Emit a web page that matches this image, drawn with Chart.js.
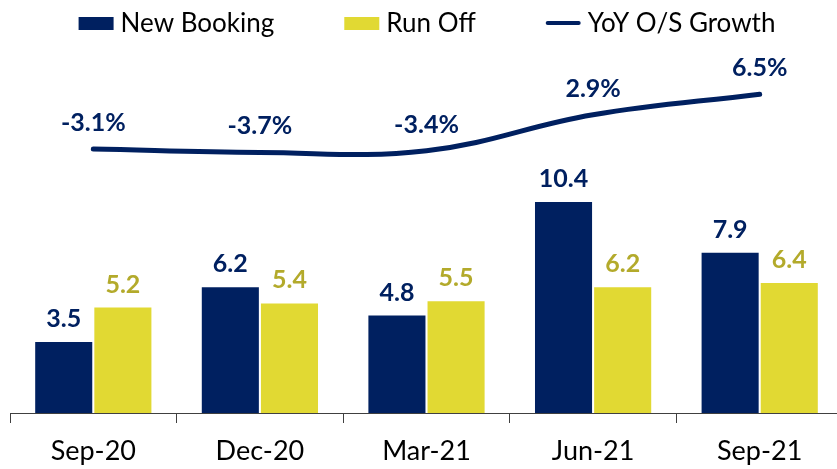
<!DOCTYPE html>
<html>

<head>
    <title>New Booking vs Run Off</title>
    <script src="https://cdn.jsdelivr.net/npm/chart.js"></script>
    <style>
        body { margin: 0; overflow: hidden; background: #fff; }
        #wrap { width: 845px; height: 469px; }
    </style>
</head>

<body>
    <div id="wrap"><canvas id="chart"></canvas></div>
    <script>
        var categories = ['Sep-20', 'Dec-20', 'Mar-21', 'Jun-21', 'Sep-21'];
        var newBooking = [3.5, 6.2, 4.8, 10.4, 7.9];
        var runOff = [5.2, 5.4, 5.5, 6.2, 6.4];
        var yoyGrowth = [-3.1, -3.7, -3.4, 2.9, 6.5];

        var NAVY = '#002060';
        var YELLOW = '#E1D933';
        var YELLOW_TEXT = '#B3AA2B';
        var FONT = 'Lato, "Open Sans", sans-serif';

        // value labels above bars and line points
        var valueLabels = {
            id: 'valueLabels',
            afterDatasetsDraw: function (chart) {
                var c = chart.ctx;
                c.save();
                c.font = 'bold 25px ' + FONT;
                c.textAlign = 'center';
                c.textBaseline = 'middle';
                chart.data.datasets.forEach(function (ds, i) {
                    var meta = chart.getDatasetMeta(i);
                    meta.data.forEach(function (el, j) {
                        var v = ds.data[j];
                        var txt, gap;
                        if (ds.type === 'line') {
                            txt = v.toFixed(1) + '%';
                            gap = 26;
                        } else {
                            txt = v.toFixed(1);
                            gap = 23;
                        }
                        c.fillStyle = ds.labelColor;
                        c.fillText(txt, el.x, el.y - gap);
                    });
                });
                c.restore();
            }
        };

        // legend row on top
        var topLegend = {
            id: 'topLegend',
            afterDraw: function (chart) {
                var c = chart.ctx;
                c.save();
                c.font = '26px ' + FONT;
                c.textBaseline = 'middle';
                var y = 23, mark = 35, gap = 7, itemGap = 70;
                var items = chart.data.datasets.map(function (ds) {
                    return { ds: ds, w: mark + gap + c.measureText(ds.label).width };
                });
                var total = items.reduce(function (s, it) { return s + it.w; }, 0) + itemGap * (items.length - 1);
                var x = 427 - total / 2;
                items.forEach(function (it) {
                    var ds = it.ds;
                    if (ds.type === 'line') {
                        c.strokeStyle = ds.borderColor;
                        c.lineWidth = 4;
                        c.lineCap = 'round';
                        c.beginPath();
                        c.moveTo(x + 2, y);
                        c.lineTo(x + mark - 2, y);
                        c.stroke();
                    } else {
                        c.fillStyle = ds.backgroundColor;
                        c.fillRect(x, y - 6, mark, 13);
                    }
                    c.fillStyle = '#000';
                    c.fillText(ds.label, x + mark + gap, y + 1);
                    x += it.w + itemGap;
                });
                c.restore();
            }
        };

        var ctx = document.getElementById('chart').getContext('2d');
        var chart = new Chart(ctx, {
            data: {
                labels: categories,
                datasets: [{
                    type: 'bar',
                    label: 'New Booking',
                    data: newBooking,
                    backgroundColor: NAVY,
                    labelColor: NAVY,
                    yAxisID: 'y',
                    order: 1,
                    categoryPercentage: 0.71,
                    barPercentage: 0.965
                }, {
                    type: 'bar',
                    label: 'Run Off',
                    data: runOff,
                    backgroundColor: YELLOW,
                    labelColor: YELLOW_TEXT,
                    yAxisID: 'y',
                    order: 1,
                    categoryPercentage: 0.71,
                    barPercentage: 0.965
                }, {
                    type: 'line',
                    label: 'YoY O/S Growth',
                    data: yoyGrowth,
                    borderColor: NAVY,
                    labelColor: NAVY,
                    borderWidth: 5,
                    borderCapStyle: 'round',
                    pointRadius: 0,
                    tension: 0.4,
                    yAxisID: 'y1',
                    order: 0
                }]
            },
            options: {
                responsive: true,
                maintainAspectRatio: false,
                animation: false,
                layout: { padding: { top: 30, left: 10, right: 2, bottom: 0 } },
                plugins: {
                    legend: { display: false },
                    tooltip: { enabled: false }
                },
                scales: {
                    x: {
                        offset: true,
                        grid: {
                            display: true,
                            offset: true,
                            drawOnChartArea: false,
                            tickLength: 10,
                            color: '#404040'
                        },
                        border: { display: true, color: '#404040', width: 1 },
                        ticks: {
                            color: '#000',
                            font: { family: FONT, size: 27 },
                            padding: 12
                        },
                        afterFit: function (scale) { scale.height = 56; }
                    },
                    y: {
                        display: false,
                        min: 0,
                        max: 18.87
                    },
                    y1: {
                        display: false,
                        position: 'right',
                        min: -49.42,
                        max: 17.78
                    }
                }
            },
            plugins: [valueLabels, topLegend]
        });
    </script>
</body>

</html>
